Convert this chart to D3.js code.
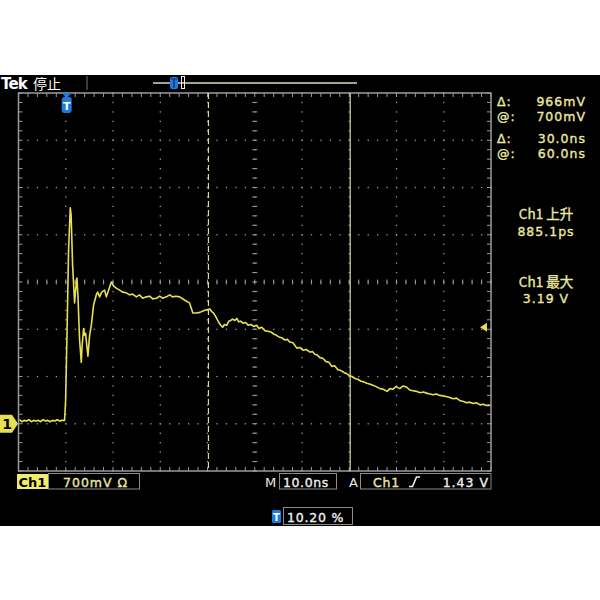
<!DOCTYPE html>
<html><head><meta charset="utf-8">
<script src="https://cdn.jsdelivr.net/npm/d3@7"></script>
<style>body{margin:0;background:#fff}svg{display:block}</style>
</head><body><svg id="c" width="600" height="600"></svg>
<script>
// ---- data (time in ns relative to trigger, voltage in V) ----
const timeNs = [-10.0,-9.5,-9.0,-8.5,-8.0,-7.5,-7.0,-6.5,-6.0,-5.5,-5.0,-4.5,-4.0,-3.5,-3.0,-2.5,-2.0,-1.5,-1.0,-0.45,
  -0.23,0.08,0.4,0.76,0.93,1.25,1.67,1.89,2.16,2.37,2.73,3.09,3.26,3.58,3.79,4.0,4.49,4.85,5.21,5.70,6.27,6.55,6.97,7.39,8.03,8.39,8.88,9.45,9.94,10.5,
  11.2,11.84,12.63,13.3,13.96,14.75,15.4,16.1,16.86,17.56,18.2,18.98,19.68,20.3,21.1,21.8,22.4,23.1,23.9,25.0,26.0,26.7,27.5,28.2,29.2,
  30.3,30.7,31.1,31.6,32.2,32.6,33.0,33.4,33.9,34.3,34.7,35.1,35.6,36.0,36.4,36.8,37.3,37.9,38.4,39.0,39.6,40.2,40.7,41.3,41.9,42.6,43.2,43.8,44.4,45.1,
  45.6,46.2,46.7,47.2,47.9,48.7,49.3,50.0,50.7,51.5,52.0,52.5,53.0,53.6,54.2,54.9,55.5,56.1,56.7,57.4,58.0,58.7,59.3,59.9,60.4,61.0,61.6,62.3,62.9,63.5,
  64.1,64.8,65.5,66.3,67.0,67.8,68.4,69.0,69.7,70.5,71.2,72.0,72.6,73.3,74.0,74.8,75.5,76.3,76.9,77.5,78.2,79.0,79.7,80.5,81.1,81.8,82.5,83.3,84.0,84.7,
  85.3,86.0,86.7,87.5,88.1,88.8,89.6];
const voltsV = [0.06,0.03,0.05,0.04,0.06,0.03,0.05,0.04,0.05,0.03,0.06,0.04,0.05,0.03,0.05,0.04,0.06,0.04,0.05,0.05,
  0.34,1.38,2.58,3.20,3.10,2.35,1.79,1.98,2.16,1.91,1.24,0.91,1.16,1.41,1.31,1.34,1.00,1.31,1.46,1.76,1.91,1.95,1.88,1.95,1.98,1.88,1.98,2.10,2.04,2.01,
  1.98,1.95,1.94,1.91,1.92,1.88,1.91,1.86,1.88,1.89,1.85,1.86,1.89,1.86,1.88,1.91,1.88,1.89,1.88,1.83,1.79,1.64,1.64,1.65,1.68,
  1.70,1.66,1.64,1.58,1.50,1.46,1.43,1.47,1.46,1.52,1.53,1.55,1.53,1.56,1.51,1.52,1.49,1.50,1.46,1.47,1.44,1.46,1.41,1.43,1.38,1.37,1.36,1.33,1.31,1.28,
  1.27,1.24,1.25,1.21,1.20,1.12,1.13,1.09,1.10,1.06,1.07,1.03,1.02,0.98,0.97,0.92,0.91,0.85,0.86,0.80,0.79,0.76,0.74,0.71,0.70,0.67,0.66,0.63,0.62,0.60,
  0.59,0.57,0.55,0.52,0.51,0.48,0.52,0.51,0.55,0.52,0.56,0.54,0.50,0.49,0.48,0.46,0.47,0.45,0.44,0.43,0.44,0.42,0.41,0.40,0.39,0.37,0.38,0.34,0.33,0.31,
  0.32,0.30,0.31,0.28,0.29,0.27,0.27];
const cursorTimesNs = [30, 60];
const triggerLevelV = 1.43;
const readoutLabels = ["Δ:", "@:", "Δ:", "@:"];
const readoutValues = ["966mV", "700mV", "30.0ns", "60.0ns"];
const measureTitles = ["Ch1 上升", "Ch1 最大"];
const measureValues = ["885.1ps", "3.19 V"];
const statusLabels = ["Tek", "停止"];
const bottomLabels = ["Ch1", "700mV Ω", "M", "10.0ns", "A", "Ch1", "1.43 V", "10.20 %"];

// ---- drawing ----
const svg = d3.select("#c");
const FONT = "DejaVu Sans, sans-serif";
const CJK = "Noto Sans CJK SC, DejaVu Sans, sans-serif";
const YEL = "#e6e052", PALE = "#ece8a2", GRID = "#9c9c9c", BLUE = "#1f7ae0";

const x = d3.scaleLinear().domain([-10.2, 89.8]).range([18.5, 491]);
const y = d3.scaleLinear().domain([-0.7, 4.9]).range([471, 93]);

svg.append("rect").attr("x",0).attr("y",0).attr("width",600).attr("height",600).attr("fill","#fff");
svg.append("rect").attr("x",0).attr("y",75).attr("width",600).attr("height",451).attr("fill","#000");

// top status
svg.append("text").attr("x",1).attr("y",89).attr("fill","#fff").attr("font-family",FONT)
  .attr("font-weight","bold").attr("font-size",15).attr("letter-spacing",-0.8).text(statusLabels[0]);
svg.append("text").attr("x",33).attr("y",89).attr("fill","#fff").attr("font-family",CJK)
  .attr("font-size",14).text(statusLabels[1]);
svg.append("line").attr("x1",87).attr("x2",87).attr("y1",76).attr("y2",90).attr("stroke","#777");
svg.append("line").attr("x1",153).attr("x2",357).attr("y1",83).attr("y2",83).attr("stroke","#a4a48c").attr("stroke-width",2);
svg.append("rect").attr("x",170).attr("y",77).attr("width",8).attr("height",12).attr("rx",2).attr("fill",BLUE);
svg.append("path").attr("d","M171,79H177M174,79V88").attr("stroke","#0a2a60").attr("stroke-width",1.2);
svg.append("rect").attr("x",181.5).attr("y",76.5).attr("width",3).attr("height",12).attr("fill","none").attr("stroke","#eee");

// grid
const xMaj = d3.range(11).map(k => -10.2 + 10*k);
const yMaj = d3.range(9).map(k => -0.7 + 0.7*k);
const xMin = d3.range(51).map(k => -10.2 + 2*k);
const yMin = d3.range(41).map(k => -0.7 + 0.14*k);
const g = svg.append("g");
xMaj.slice(1,-1).forEach((t,i) => {
  if (i === 4) return;
  g.selectAll(null).data(yMin).join("rect").attr("x", x(t)-0.6).attr("y", d=>y(d)-0.6)
    .attr("width",1.3).attr("height",1.3).attr("fill",GRID);
});
yMaj.slice(1,-1).forEach((v,i) => {
  if (i === 3) return;
  g.selectAll(null).data(xMin).join("rect").attr("x", d=>x(d)-0.6).attr("y", y(v)-0.6)
    .attr("width",1.3).attr("height",1.3).attr("fill",GRID);
});
const cx = x(39.8), cy = y(2.1);
g.selectAll(null).data(xMin).join("line").attr("x1",d=>x(d)).attr("x2",d=>x(d))
  .attr("y1",cy-2.5).attr("y2",cy+2.5).attr("stroke",GRID);
g.selectAll(null).data(yMin).join("line").attr("y1",d=>y(d)).attr("y2",d=>y(d))
  .attr("x1",cx-2.5).attr("x2",cx+2.5).attr("stroke",GRID);
g.selectAll(null).data(xMin).join("rect").attr("x", d=>x(d)-0.6).attr("y", cy-0.6).attr("width",1.3).attr("height",1.3).attr("fill",GRID);
g.selectAll(null).data(yMin).join("rect").attr("x", cx-0.6).attr("y", d=>y(d)-0.6).attr("width",1.3).attr("height",1.3).attr("fill",GRID);
g.append("rect").attr("x",x(-10.2)).attr("y",y(4.9)).attr("width",x(89.8)-x(-10.2)).attr("height",y(-0.7)-y(4.9))
  .attr("fill","none").attr("stroke",GRID).attr("stroke-width",1.5);
g.selectAll(null).data(xMin).join("path")
  .attr("d", d => `M${x(d)},${y(4.9)}v4M${x(d)},${y(-0.7)}v-4`).attr("stroke",GRID);
g.selectAll(null).data(yMin).join("path")
  .attr("d", d => `M${x(-10.2)},${y(d)}h4M${x(89.8)},${y(d)}h-4`).attr("stroke",GRID);

// cursors
svg.append("line").attr("x1",x(cursorTimesNs[0])).attr("x2",x(cursorTimesNs[0])).attr("y1",y(4.9)).attr("y2",y(-0.7))
  .attr("stroke","#dcd8aa").attr("stroke-width",1.2).attr("stroke-dasharray","6,3");
svg.append("line").attr("x1",x(cursorTimesNs[1])).attr("x2",x(cursorTimesNs[1])).attr("y1",y(4.9)).attr("y2",y(-0.7))
  .attr("stroke","#dcd8aa").attr("stroke-width",1.2);

// trace
const pts = timeNs.map((t,i) => [t, voltsV[i]]);
svg.append("path").datum(pts)
  .attr("d", d3.line().x(d=>x(d[0])).y(d=>y(d[1])))
  .attr("fill","none").attr("stroke",YEL).attr("stroke-width",1.6).attr("stroke-linejoin","round");

// trigger marker (top), ground marker, trigger level arrow
const tx = x(0);
svg.append("path").attr("d",`M${tx-5},93L${tx+5},93L${tx},98Z`).attr("fill",BLUE);
svg.append("rect").attr("x",tx-5).attr("y",97).attr("width",10).attr("height",16).attr("rx",3).attr("fill",BLUE);
svg.append("text").attr("x",tx).attr("y",110).attr("text-anchor","middle").attr("fill","#fff")
  .attr("font-family",FONT).attr("font-weight","bold").attr("font-size",11).text("T");
const gy = y(0);
svg.append("path").attr("d",`M0,${gy-9}H12L18,${gy}L12,${gy+9}H0Z`).attr("fill",YEL);
svg.append("text").attr("x",7).attr("y",gy+5.5).attr("text-anchor","middle").attr("fill","#000")
  .attr("font-family",FONT).attr("font-weight","bold").attr("font-size",14).text("1");
const ly = y(triggerLevelV);
svg.append("path").attr("d",`M480,${ly}L487,${ly-4.5}L487,${ly+4.5}Z`).attr("fill",YEL);

// right readouts
const txt = (sel) => sel.attr("stroke-width",0.35);
const ry = [106, 121, 143, 158];
readoutLabels.forEach((l,i) => {
  txt(svg.append("text").attr("x",497).attr("y",ry[i]).attr("fill",PALE).attr("stroke",PALE).attr("font-family",FONT)
    .attr("font-size",12.5).attr("letter-spacing",1).text(l));
  txt(svg.append("text").attr("x",586).attr("y",ry[i]).attr("text-anchor","end").attr("fill",PALE).attr("stroke",PALE).attr("font-family",FONT)
    .attr("font-size",12.5).attr("letter-spacing",1).text(readoutValues[i]));
});
const my = [[219, 236], [287, 303]];
measureTitles.forEach((m,i) => {
  txt(svg.append("text").attr("x",546).attr("y",my[i][0]).attr("text-anchor","middle").attr("fill",PALE).attr("stroke",PALE)
    .attr("font-family",CJK).attr("font-size",13.5).text(m));
  txt(svg.append("text").attr("x",546).attr("y",my[i][1]).attr("text-anchor","middle").attr("fill",PALE).attr("stroke",PALE)
    .attr("font-family",FONT).attr("font-size",12.5).attr("letter-spacing",1).text(measureValues[i]));
});

// bottom bar
svg.append("rect").attr("x",17).attr("y",474).attr("width",31).attr("height",15).attr("fill","#f2ee6a");
svg.append("text").attr("x",32.5).attr("y",486.5).attr("text-anchor","middle").attr("fill","#000")
  .attr("font-family",FONT).attr("font-weight","bold").attr("font-size",13).text(bottomLabels[0]);
svg.append("rect").attr("x",48.5).attr("y",473.5).attr("width",91).attr("height",15.5).attr("fill","none").attr("stroke","#8a8a8a");
txt(svg.append("text").attr("x",63).attr("y",486.5).attr("fill",PALE).attr("stroke",PALE).attr("font-family",FONT)
  .attr("font-size",12.5).attr("letter-spacing",1).text(bottomLabels[1]));
svg.append("text").attr("x",265).attr("y",487).attr("fill","#e8e8e8").attr("font-family",FONT)
  .attr("font-size",13).text(bottomLabels[2]);
svg.append("rect").attr("x",279.5).attr("y",473.5).attr("width",57).attr("height",15.5).attr("fill","none").attr("stroke","#8a8a8a");
txt(svg.append("text").attr("x",283).attr("y",486.5).attr("fill","#eee").attr("stroke","#eee").attr("font-family",FONT)
  .attr("font-size",12.5).attr("letter-spacing",0.6).text(bottomLabels[3]));
svg.append("text").attr("x",349).attr("y",487).attr("fill","#e8e8e8").attr("font-family",FONT)
  .attr("font-size",13).text(bottomLabels[4]);
svg.append("rect").attr("x",360.5).attr("y",473.5).attr("width",130.5).attr("height",15.5).attr("fill","none").attr("stroke","#8a8a8a");
txt(svg.append("text").attr("x",373).attr("y",486.5).attr("fill",PALE).attr("stroke",PALE).attr("font-family",FONT)
  .attr("font-size",12.5).attr("letter-spacing",0.8).text(bottomLabels[5]));
svg.append("path").attr("d","M409,486.5H412.5L416.5,477H420").attr("fill","none").attr("stroke","#eee").attr("stroke-width",1.6);
txt(svg.append("text").attr("x",489).attr("y",486.5).attr("text-anchor","end").attr("fill","#eee").attr("stroke","#eee").attr("font-family",FONT)
  .attr("font-size",12.5).attr("letter-spacing",1).text(bottomLabels[6]));

svg.append("rect").attr("x",272).attr("y",510).attr("width",9).attr("height",13).attr("rx",1.5).attr("fill",BLUE);
svg.append("text").attr("x",276.5).attr("y",521).attr("text-anchor","middle").attr("fill","#fff")
  .attr("font-family",FONT).attr("font-weight","bold").attr("font-size",10).text("T");
svg.append("rect").attr("x",283.5).attr("y",507.5).attr("width",69).attr("height",17).attr("fill","none").attr("stroke","#8a8a8a");
txt(svg.append("text").attr("x",287).attr("y",521.5).attr("fill","#eee").attr("stroke","#eee").attr("font-family",FONT)
  .attr("font-size",12.5).attr("letter-spacing",0.8).text(bottomLabels[7]));
</script></body></html>
